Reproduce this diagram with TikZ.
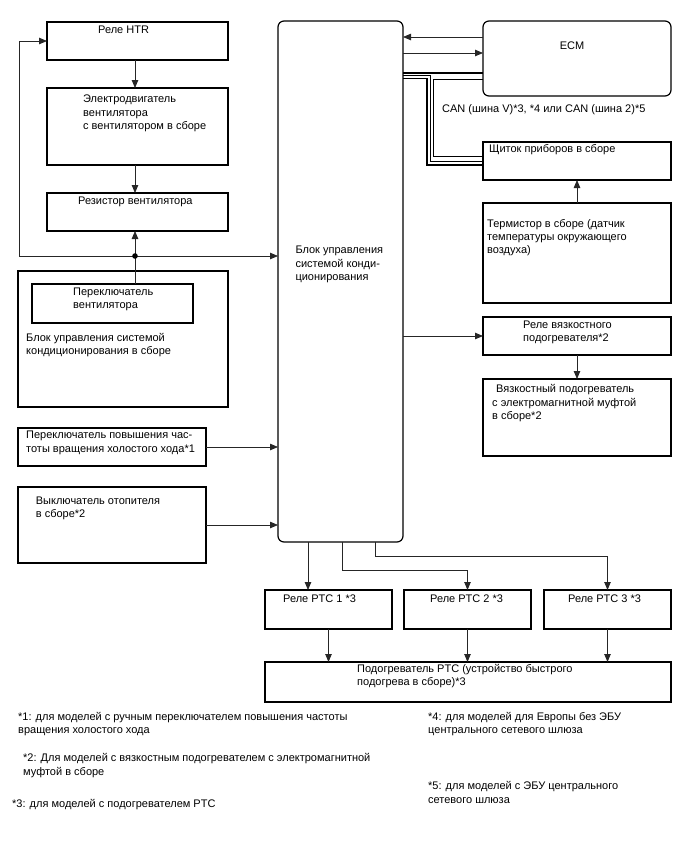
\documentclass[tikz,border=0pt]{standalone}
\usepackage{fontspec}
\setmainfont{Liberation Sans}
\usetikzlibrary{arrows.meta,calc}
\begin{document}
\begin{tikzpicture}[x=1pt,y=-1pt,
  box/.style={draw=black,line width=1.2pt,inner sep=0pt,outer sep=0pt,anchor=north west},
  rbox/.style={box,rounded corners=6pt},
  txt/.style={anchor=north west,inner sep=0pt,align=left,font=\fontsize{11}{13.3}\selectfont},
  conn/.style={draw=black!85,line width=0.8pt},
  arr/.style={conn,-{Triangle[length=8pt,width=6.5pt]}},
  busthick/.style={draw=black,line width=1.6pt},
  busthin/.style={draw=black,line width=0.9pt}]
\useasboundingbox (0,0) rectangle (688,852);

% ---------- boxes ----------
\node[box,minimum width=181pt,minimum height=38pt] (htr) at (47,22) {};
\node[box,minimum width=181pt,minimum height=77pt] (mot) at (47,88) {};
\node[box,minimum width=181pt,minimum height=38pt] (res) at (47,193) {};
\node[box,minimum width=210pt,minimum height=136pt] (acu) at (18,271) {};
\node[box,minimum width=161pt,minimum height=39pt] (fsw) at (32,284) {};
\node[box,minimum width=188pt,minimum height=38pt] (idle) at (18,428) {};
\node[box,minimum width=188pt,minimum height=76pt] (htsw) at (18,487) {};
\node[rbox,minimum width=125pt,minimum height=521pt] (main) at (278,21) {};
\node[rbox,minimum width=188pt,minimum height=75pt] (ecm) at (483,21) {};
\node[box,minimum width=188pt,minimum height=38pt] (shch) at (483,142) {};
\node[box,minimum width=188pt,minimum height=100pt] (term) at (483,203) {};
\node[box,minimum width=188pt,minimum height=38pt] (vrel) at (483,317) {};
\node[box,minimum width=188pt,minimum height=77pt] (vyaz) at (483,379) {};
\node[box,minimum width=127pt,minimum height=39pt] (ptc1) at (265,590) {};
\node[box,minimum width=127pt,minimum height=39pt] (ptc2) at (404,590) {};
\node[box,minimum width=127pt,minimum height=39pt] (ptc3) at (544,590) {};
\node[box,minimum width=406pt,minimum height=40pt] (heat) at (265,662) {};

% ---------- texts ----------
\node[txt] (thtr) at (98,24.2) {\strut Реле HTR};
\node[txt] (tmot) at (83,93.2) {\strut Электродвигатель\\вентилятора\\с вентилятором в сборе};
\node[txt] (tres) at (78,194.9) {\strut Резистор вентилятора};
\node[txt] (tfsw) at (73,285.6) {\strut Переключатель\\вентилятора};
\node[txt] (tacu) at (26,331.6) {\strut Блок управления системой\\кондиционирования в сборе};
\node[txt] (tidle) at (26,429.2) {\strut Переключатель повышения час-\\тоты вращения холостого хода*1};
\node[txt] (thtsw) at (35.7,494.9) {\strut Выключатель отопителя\\в сборе*2};
\node[txt] (tmain) at (295.3,244.2) {\strut Блок управления\\системой конди-\\ционирования};
\node[anchor=center,inner sep=0pt,font=\fontsize{11}{13.3}\selectfont] (tecm) at (572,46) {ECM};
\node[txt] (tcan) at (442,103.2) {\strut CAN (шина V)*3, *4 или CAN (шина 2)*5};
\node[txt] (tshch) at (489,143.2) {\strut Щиток приборов в сборе};
\node[txt] (tterm) at (487,217.6) {\strut Термистор в сборе (датчик\\температуры окружающего\\воздуха)};
\node[txt] (tvrel) at (523,318.9) {\strut Реле вязкостного\\подогревателя*2};
\node[txt] (tvyaz) at (492,383.2) {\strut \hspace*{4pt}Вязкостный подогреватель\\с электромагнитной муфтой\\в сборе*2};
\node[txt] (tptc1) at (283,593.2) {\strut Реле PTC 1 *3};
\node[txt] (tptc2) at (430,593.2) {\strut Реле PTC 2 *3};
\node[txt] (tptc3) at (568,593.2) {\strut Реле PTC 3 *3};
\node[txt] (theat) at (357,662.6) {\strut Подогреватель PTC (устройство быстрого\\подогрева в сборе)*3};
\node[txt] (fn1) at (18,710.9) {\strut *1: для моделей с ручным переключателем повышения частоты\\вращения холостого хода};
\node[txt] (fn2) at (23,752.4) {\strut *2: Для моделей с вязкостным подогревателем с электромагнитной\\муфтой в сборе};
\node[txt] (fn3) at (12,797.6) {\strut *3: для моделей с подогревателем PTC};
\node[txt] (fn4) at (428,710.9) {\strut *4: для моделей для Европы без ЭБУ\\центрального сетевого шлюза};
\node[txt] (fn5) at (428,780.2) {\strut *5: для моделей с ЭБУ центрального\\сетевого шлюза};

% ---------- left connectors ----------
\coordinate (dot) at (135,256);
\coordinate (fb) at (19,256);
\draw[arr] (htr.south -| dot) -- (mot.north -| dot);
\draw[arr] (mot.south -| dot) -- (res.north -| dot);
\draw[arr] (dot) -- (res.south -| dot);
\draw[conn] (dot) -- (fsw.north -| dot);
\draw[arr] (dot) -- (dot -| main.west);
\draw[arr] (dot) -- (fb) |- (htr.west);
\fill (dot) circle (2.8pt);
\draw[arr] (idle.east) -- (idle.east -| main.west);
\draw[arr] (htsw.east) -- (htsw.east -| main.west);

% ---------- right connectors ----------
\coordinate (e1) at (0,37);
\coordinate (e2) at (0,53);
\draw[arr] (ecm.west |- e1) -- (main.east |- e1);
\draw[arr] (main.east |- e2) -- (ecm.west |- e2);
% CAN bus
\coordinate (a1) at (0,73);
\draw[draw=black,line width=1.8pt] (main.east |- a1) -- (ecm.west |- a1);
\coordinate (b1) at (430,75.6);
\coordinate (b2) at (430,161);
\draw[busthin] (main.east |- b1) -- (b1) -- (b2) -- (b2 -| shch.west);
\coordinate (c1) at (427,78.6);
\coordinate (c2) at (427,165);
\draw[busthick] (main.east |- c1) -- (c1) -- (c2) -- (c2 -| shch.west);
\coordinate (d1) at (433.5,79.6);
\coordinate (d2) at (433.5,156.5);
\draw[busthick] (ecm.west |- d1) -- (d1) -- (d2) -- (d2 -| shch.west);
\draw[arr] (term.north) -- (shch.south);
\draw[arr] (main.east |- vrel.west) -- (vrel.west);
\draw[arr] (vrel.south) -- (vyaz.north);

% ---------- bottom connectors ----------
\coordinate (m1) at (308,0);
\coordinate (m2) at (342,570);
\coordinate (m3) at (375,556);
\draw[arr] (main.south -| m1) -- (ptc1.north -| m1);
\draw[arr] (main.south -| m2) -- (m2) -| (ptc2.north);
\draw[arr] (main.south -| m3) -- (m3) -| (ptc3.north);
\draw[arr] (ptc1.south) -- (ptc1.south |- heat.north);
\draw[arr] (ptc2.south) -- (ptc2.south |- heat.north);
\draw[arr] (ptc3.south) -- (ptc3.south |- heat.north);
\end{tikzpicture}
\end{document}
